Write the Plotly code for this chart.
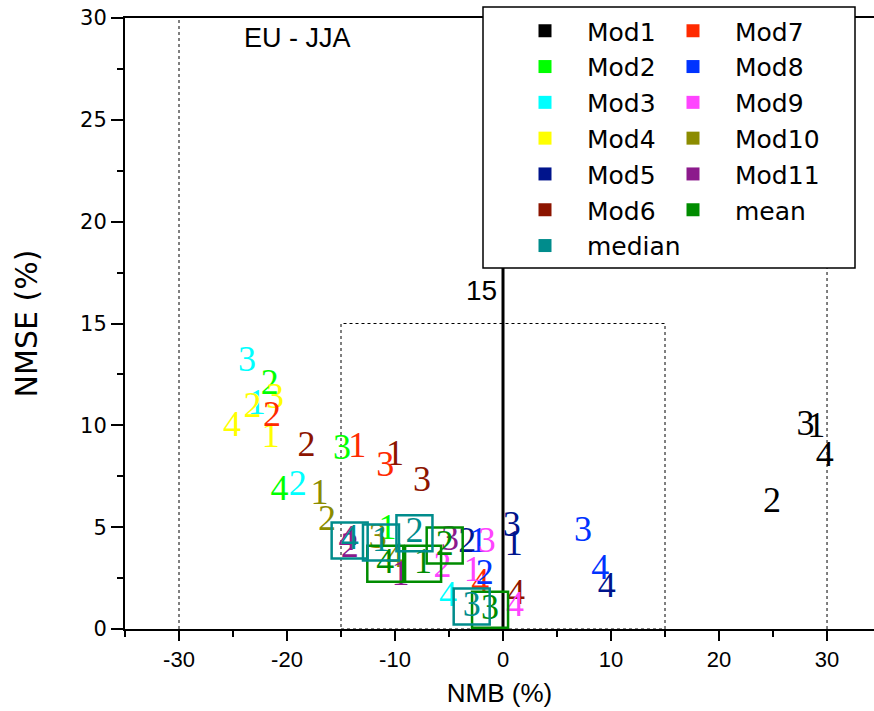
import plotly.graph_objects as go

# NMB (%) / NMSE (%) per model; entries are seasons/points labelled 1..4
labels = ["1", "2", "3", "4"]

models = ["Mod1", "Mod2", "Mod3", "Mod4", "Mod5", "Mod6",
          "Mod7", "Mod8", "Mod9", "Mod10", "Mod11"]
colors = ["#000000", "#00ff00", "#00ffff", "#ffff00", "#00148c", "#8c1400",
          "#ff2a00", "#0033ff", "#ff44ff", "#8c8c00", "#8c1a8c"]

nmb = {
    "Mod1":  [29.0, 24.9, 28.0, 29.8],
    "Mod2":  [-10.7, -21.6, -14.9, -20.7],
    "Mod3":  [-22.8, -19.0, -23.7, -5.1],
    "Mod4":  [-21.5, -23.2, -21.1, -25.1],
    "Mod5":  [1.0, -3.3, 0.8, 9.6],
    "Mod6":  [-10.0, -18.2, -7.5, 1.2],
    "Mod7":  [-13.5, -21.4, -10.9, -2.1],
    "Mod8":  [-2.3, -1.7, 7.4, 9.0],
    "Mod9":  [-2.8, -5.6, -1.5, 1.1],
    "Mod10": [-17.0, -16.3, -11.6, -10.0],
    "Mod11": [-9.5, -14.2, -4.9, -14.4],
}
nmse = {
    "Mod1":  [9.87, 6.2, 9.97, 8.45],
    "Mod2":  [4.86, 12.0, 8.8, 6.8],
    "Mod3":  [11.0, 7.0, 13.1, 1.57],
    "Mod4":  [9.4, 10.85, 11.3, 9.9],
    "Mod5":  [4.1, 4.2, 5.0, 2.0],
    "Mod6":  [8.5, 8.95, 7.2, 1.65],
    "Mod7":  [8.9, 10.4, 7.95, 2.2],
    "Mod8":  [4.2, 2.65, 4.76, 2.9],
    "Mod9":  [2.8, 3.0, 4.2, 1.1],
    "Mod10": [6.6, 5.3, 4.4, 3.5],
    "Mod11": [2.6, 4.0, 4.3, 4.3],
}

ens_names = ["mean", "median"]
ens_colors = ["#008c00", "#008c8c"]
ens_nmb = {
    "mean":   [-7.4, -5.4, -1.2, -10.9],
    "median": [-11.3, -8.2, -2.9, -14.2],
}
ens_nmse = {
    "mean":   [3.2, 4.1, 0.95, 3.2],
    "median": [4.25, 4.7, 1.1, 4.35],
}

# axis tick labels (plain hyphen minus)
x_tickvals = [-30, -20, -10, 0, 10, 20, 30]
x_ticktext = ["-30", "-20", "-10", "0", "10", "20", "30"]

num_font = "Liberation Serif"
num_size = 36

fig = go.Figure()

# model points drawn as their label numbers
for name, col in zip(models, colors):
    fig.add_trace(go.Scatter(
        x=nmb[name], y=nmse[name], mode="text", text=labels,
        textposition="middle center",
        textfont=dict(family=num_font, size=num_size, color=col),
        showlegend=False, hoverinfo="skip", cliponaxis=False))

# ensemble mean / median: numbers inside open boxes
for name, col in zip(ens_names, ens_colors):
    fig.add_trace(go.Scatter(
        x=ens_nmb[name], y=ens_nmse[name], mode="markers+text", text=labels,
        textposition="middle center",
        marker=dict(symbol="square-open", size=36, color=col,
                    line=dict(color=col, width=2.5)),
        textfont=dict(family=num_font, size=num_size, color=col),
        showlegend=False, hoverinfo="skip", cliponaxis=False))

# legend entries (two columns)
col1 = ["Mod1", "Mod2", "Mod3", "Mod4", "Mod5", "Mod6", "median"]
col2 = ["Mod7", "Mod8", "Mod9", "Mod10", "Mod11", "mean"]
all_colors = dict(zip(models + ens_names, colors + ens_colors))
for leg, names in (("legend", col1), ("legend2", col2)):
    for nm in names:
        fig.add_trace(go.Scatter(
            x=[None], y=[None], mode="markers", name=nm,
            marker=dict(symbol="square", size=13, color=all_colors[nm]),
            legend=leg, legendgroup=nm, showlegend=True))

shapes = [
    # reference lines
    dict(type="line", x0=-30, x1=-30, y0=0, y1=30, xref="x", yref="y",
         line=dict(color="black", width=1, dash="dot"), layer="below"),
    dict(type="line", x0=30, x1=30, y0=0, y1=30, xref="x", yref="y",
         line=dict(color="black", width=1, dash="dot"), layer="below"),
    dict(type="rect", x0=-15, x1=15, y0=0, y1=15, xref="x", yref="y",
         line=dict(color="black", width=1, dash="dot"), layer="below"),
    dict(type="line", x0=0, x1=0, y0=0, y1=30, xref="x", yref="y",
         line=dict(color="black", width=3), layer="below"),
    # legend frame
    dict(type="rect", xref="paper", yref="paper",
         x0=(483 - 125) / 749, x1=(855 - 125) / 749,
         y0=(629 - 268) / 611, y1=(629 - 7) / 611,
         fillcolor="white", line=dict(color="black", width=1.5), layer="above"),
]

legend_common = dict(
    bgcolor="rgba(0,0,0,0)", borderwidth=0,
    font=dict(family="DejaVu Sans", size=25, color="black"),
    tracegroupgap=0.3, itemwidth=74, yanchor="top", xanchor="left",
    orientation="v", traceorder="grouped",
)

fig.update_layout(
    width=874, height=711,
    margin=dict(l=125, r=0, t=18, b=82),
    plot_bgcolor="white", paper_bgcolor="white",
    shapes=shapes,
    showlegend=True,
    legend=dict(x=(503 - 125) / 749, y=(629 - 8) / 611, **legend_common),
    legend2=dict(x=(651 - 125) / 749, y=(629 - 8) / 611, **legend_common),
    annotations=[
        dict(x=-19.0, y=29.0, xref="x", yref="y", text="EU - JJA",
             showarrow=False, font=dict(family="Liberation Sans", size=27, color="black")),
        dict(x=-1.95, y=16.6, xref="x", yref="y", text="15",
             showarrow=False, font=dict(family="Liberation Sans", size=28, color="black")),
    ],
    xaxis=dict(
        range=[-35, 34.35], tickvals=x_tickvals, ticktext=x_ticktext,
        showline=True, linecolor="black", linewidth=2, mirror=True,
        ticks="outside", ticklen=10, tickwidth=2, tickcolor="black",
        minor=dict(dtick=5, tick0=-30, ticks="outside", ticklen=6,
                   tickwidth=2, tickcolor="black"),
        showgrid=False, zeroline=False,
        tickfont=dict(family="Liberation Sans", size=22, color="black"),
        title=dict(text="NMB (%)", standoff=12,
                   font=dict(family="Liberation Sans", size=26, color="black")),
    ),
    yaxis=dict(
        range=[0, 30], tick0=0, dtick=5,
        showline=True, linecolor="black", linewidth=2,
        ticks="outside", ticklen=12, tickwidth=2, tickcolor="black",
        minor=dict(dtick=2.5, ticks="outside", ticklen=6,
                   tickwidth=2, tickcolor="black"),
        showgrid=False, zeroline=False,
        tickfont=dict(family="DejaVu Sans", size=21, color="black"),
        title=dict(text="NMSE (%)", standoff=34,
                   font=dict(family="DejaVu Sans", size=30, color="black")),
    ),
)

fig.write_html("out.html")
